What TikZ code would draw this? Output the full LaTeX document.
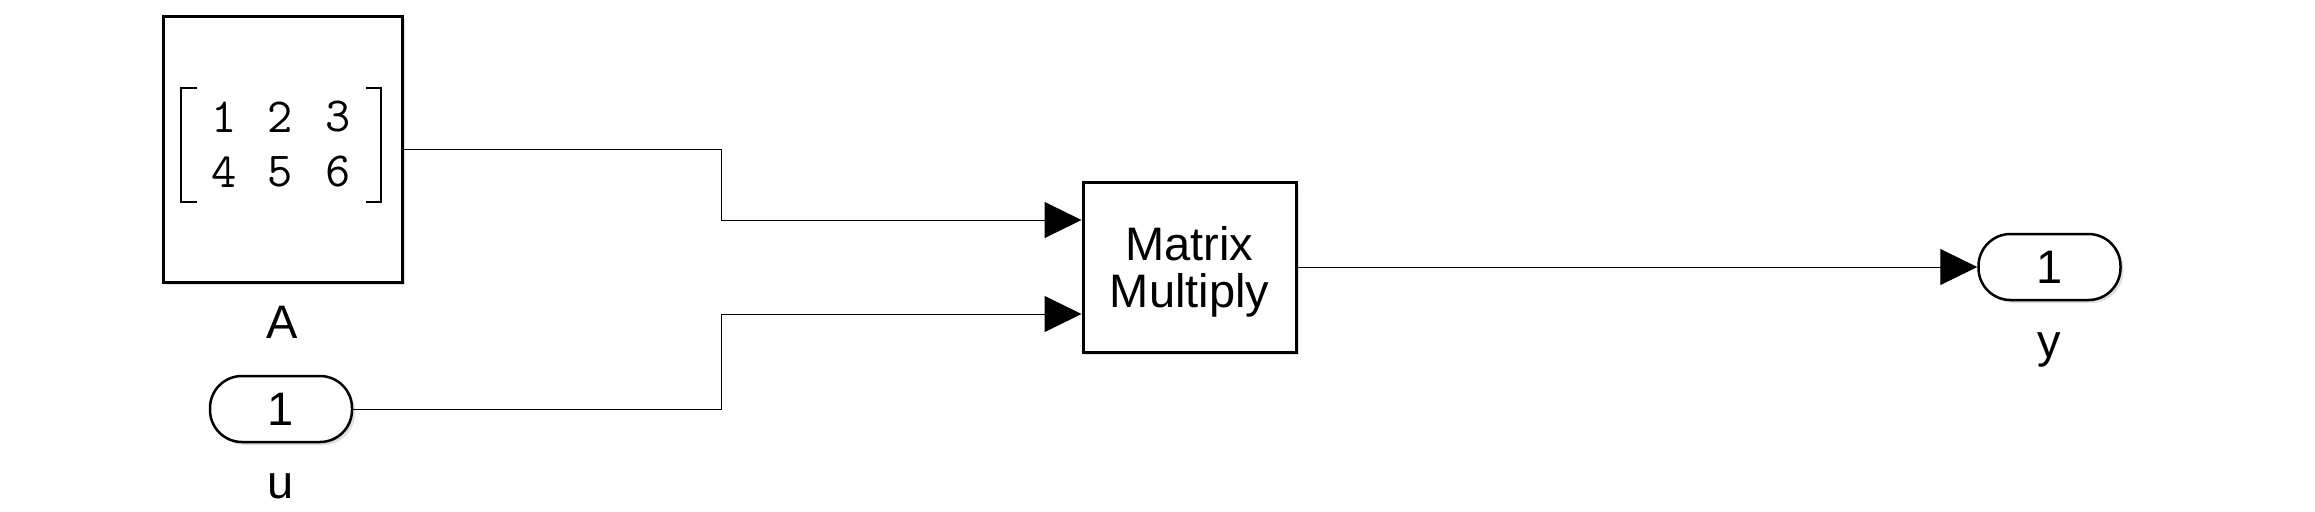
\documentclass[tikz,border=0pt]{standalone}
\usepackage{fontspec}
\setmainfont{Liberation Sans}
\usetikzlibrary{arrows.meta,shadows}
\newcommand{\blkfont}{\fontsize{23.5pt}{23.8pt}\selectfont}
\newcommand{\matfont}{\fontsize{24.5pt}{24.5pt}\ttfamily}
\begin{document}
\begin{tikzpicture}[x=0.5pt,y=-0.5pt,
  block/.style={draw=black,line width=1.5pt,fill=white,inner sep=0pt,
    drop shadow={shadow xshift=1.5pt,shadow yshift=-1.5pt,opacity=0.25}},
  port/.style={draw=black,line width=1.25pt,fill=white,rounded corners=16pt,
    minimum width=71pt,minimum height=33pt,inner sep=0pt,font=\blkfont,
    drop shadow={shadow xshift=1.5pt,shadow yshift=-1.5pt,opacity=0.25}},
  sig/.style={draw=black,line width=0.5pt,-{Triangle[length=18.5pt,width=18pt]}},
  lbl/.style={font=\blkfont,anchor=base,inner sep=0pt},
  digit/.style={font=\matfont,inner sep=0pt},
  brk/.style={draw=black,line width=0.8pt}]
\useasboundingbox (0,0) rectangle (2315,511);
\fill[white] (0,0) rectangle (2315,511);

% Constant block A
\node[block,minimum width=119.5pt,minimum height=133pt] (A) at (282.5,149) {};
\draw[brk] (197,88) -- (181,88) -- (181,202) -- (197,202);
\draw[brk] (366,88) -- (381,88) -- (381,202) -- (366,202);
\node[digit] (a11) at (224.5,117) {1};
\node[digit] (a12) at (280,117) {2};
\node[digit] (a13) at (338,117) {3};
\node[digit] (a21) at (224.5,172) {4};
\node[digit] (a22) at (280,172) {5};
\node[digit] (a23) at (338,172) {6};
\node[lbl] (Alab) at (282.5,338) {A};

% Inport u
\node[port] (u) at (281,409) {1};
\node[lbl] (ulab) at (281,498) {u};

% Matrix Multiply block
\node[block,minimum width=106.5pt,minimum height=85pt,align=center,
  font=\blkfont,text depth=0pt] (mm) at (1189.5,267) {Matrix\\Multiply};
\coordinate (p1) at ([yshift=23.5pt]mm.west);
\coordinate (p2) at ([yshift=-23.5pt]mm.west);

% Outport y
\node[port] (y) at (2049.5,267) {1};
\node[lbl] (ylab) at (2049.5,357) {y};

% Signals
\draw[sig] (A.east) -- ++(318,0) |- (p1);
\draw[sig] (u.east) -- ++(368,0) |- (p2);
\draw[sig] (mm.east) -- (y.west);
\end{tikzpicture}
\end{document}
